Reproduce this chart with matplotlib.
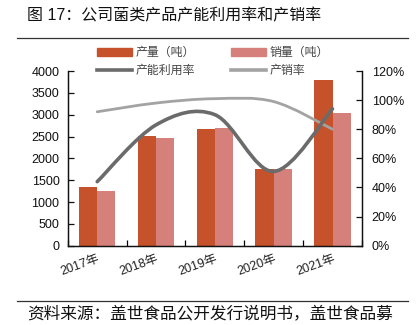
import matplotlib
matplotlib.use("Agg")
import matplotlib.pyplot as plt
from matplotlib.path import Path
from matplotlib.patches import PathPatch, Patch
from matplotlib.lines import Line2D
import numpy as np

plt.rcParams['font.family'] = ['Liberation Sans', 'Noto Sans CJK SC', 'DejaVu Sans']

years = ["2017年", "2018年", "2019年", "2020年", "2021年"]
production = [1355, 2510, 2665, 1765, 3795]   # 产量（吨）
sales = [1250, 2465, 2690, 1745, 3050]        # 销量（吨）
util_rate = [44, 83, 90, 51, 94]              # 产能利用率 %
sell_rate = [92, 98, 101, 99, 80]             # 产销率 %

c_prod = "#C5522B"
c_sales = "#D5807A"
c_util = "#6B6B6B"
c_sell = "#A3A3A3"


def smooth_path(x, y):
    # bezier through the points, like the office "smoothed line"
    x = np.asarray(x, float)
    y = np.asarray(y, float)
    n = len(x)
    verts = [(x[0], y[0])]
    codes = [Path.MOVETO]
    for i in range(n - 1):
        i0 = max(i - 1, 0)
        i3 = min(i + 2, n - 1)
        c1 = (x[i] + (x[i + 1] - x[i0]) / 6, y[i] + (y[i + 1] - y[i0]) / 6)
        c2 = (x[i + 1] - (x[i3] - x[i]) / 6, y[i + 1] - (y[i3] - y[i]) / 6)
        verts += [c1, c2, (x[i + 1], y[i + 1])]
        codes += [Path.CURVE4] * 3
    return Path(verts, codes)


fig = plt.figure(figsize=(4.16, 3.25), dpi=100)
ax = fig.add_axes([0.163, 0.244, 0.707, 0.5375])
ax2 = ax.twinx()

x = np.arange(len(years))
w = 0.31
ax.bar(x - w / 2, production, w, color=c_prod, zorder=2)
ax.bar(x + w / 2, sales, w, color=c_sales, zorder=2)

ax2.add_patch(PathPatch(smooth_path(x, sell_rate), fill=False, edgecolor=c_sell, lw=2.0, capstyle='round'))
ax2.add_patch(PathPatch(smooth_path(x, util_rate), fill=False, edgecolor=c_util, lw=2.6, capstyle='round'))

ax.set_xlim(-0.5, len(years) - 0.5)
ax.set_ylim(0, 4000)
ax.set_yticks(np.arange(0, 4001, 500))
ax2.set_ylim(0, 120)
ax2.set_yticks(np.arange(0, 121, 20))
ax2.set_yticklabels([f"{v}%" for v in range(0, 121, 20)])

ax.set_xticks(np.arange(len(years) + 1) - 0.5, minor=False)
ax.set_xticklabels([])
ax.set_xticks(x, minor=True)
ax.set_xticklabels(years, minor=True, rotation=20, ha='right', va='top',
                   rotation_mode='anchor', fontsize=9, color='#222222')
ax.tick_params(axis='x', which='minor', length=0, pad=5)
ax.tick_params(axis='x', which='major', direction='in', length=4, width=0.9)
ax.tick_params(axis='y', direction='in', length=4, width=0.9, labelsize=9, pad=6, colors='#111111')
ax2.tick_params(axis='y', direction='in', length=4, width=0.9, labelsize=9, pad=7, colors='#111111')

for a in (ax, ax2):
    a.spines['top'].set_visible(False)
    for s in ('left', 'right', 'bottom'):
        a.spines[s].set_linewidth(0.9)
        a.spines[s].set_color('#111111')

handles = [Patch(color=c_prod), Line2D([], [], color=c_util, lw=2.6),
           Patch(color=c_sales), Line2D([], [], color=c_sell, lw=2.6)]
labels = ["产量（吨）", "产能利用率", "销量（吨）", "产销率"]
fig.legend(handles, labels, ncol=2, loc='center left', bbox_to_anchor=(97 / 416, 1 - 62 / 325),
           frameon=False, fontsize=8.6, handlelength=2.9, handletextpad=0.35,
           columnspacing=3.0, labelspacing=0.45, borderpad=0, borderaxespad=0,
           labelcolor='#444444')

fig.text(27 / 416, 1 - 16 / 325, "图 17：公司菌类产品产能利用率和产销率",
         fontsize=11.5, va='center', ha='left', color='#111111')
fig.text(27 / 416, 1 - 313 / 325, "资料来源：盖世食品公开发行说明书，盖世食品募",
         fontsize=12, va='center', ha='left', color='#111111')
fig.add_artist(Line2D([17 / 416, 408 / 416], [1 - 38 / 325] * 2, color='#333333', lw=0.9))
fig.add_artist(Line2D([17 / 416, 408 / 416], [1 - 301 / 325] * 2, color='#333333', lw=0.9))

fig.savefig("out.png", dpi=100)
